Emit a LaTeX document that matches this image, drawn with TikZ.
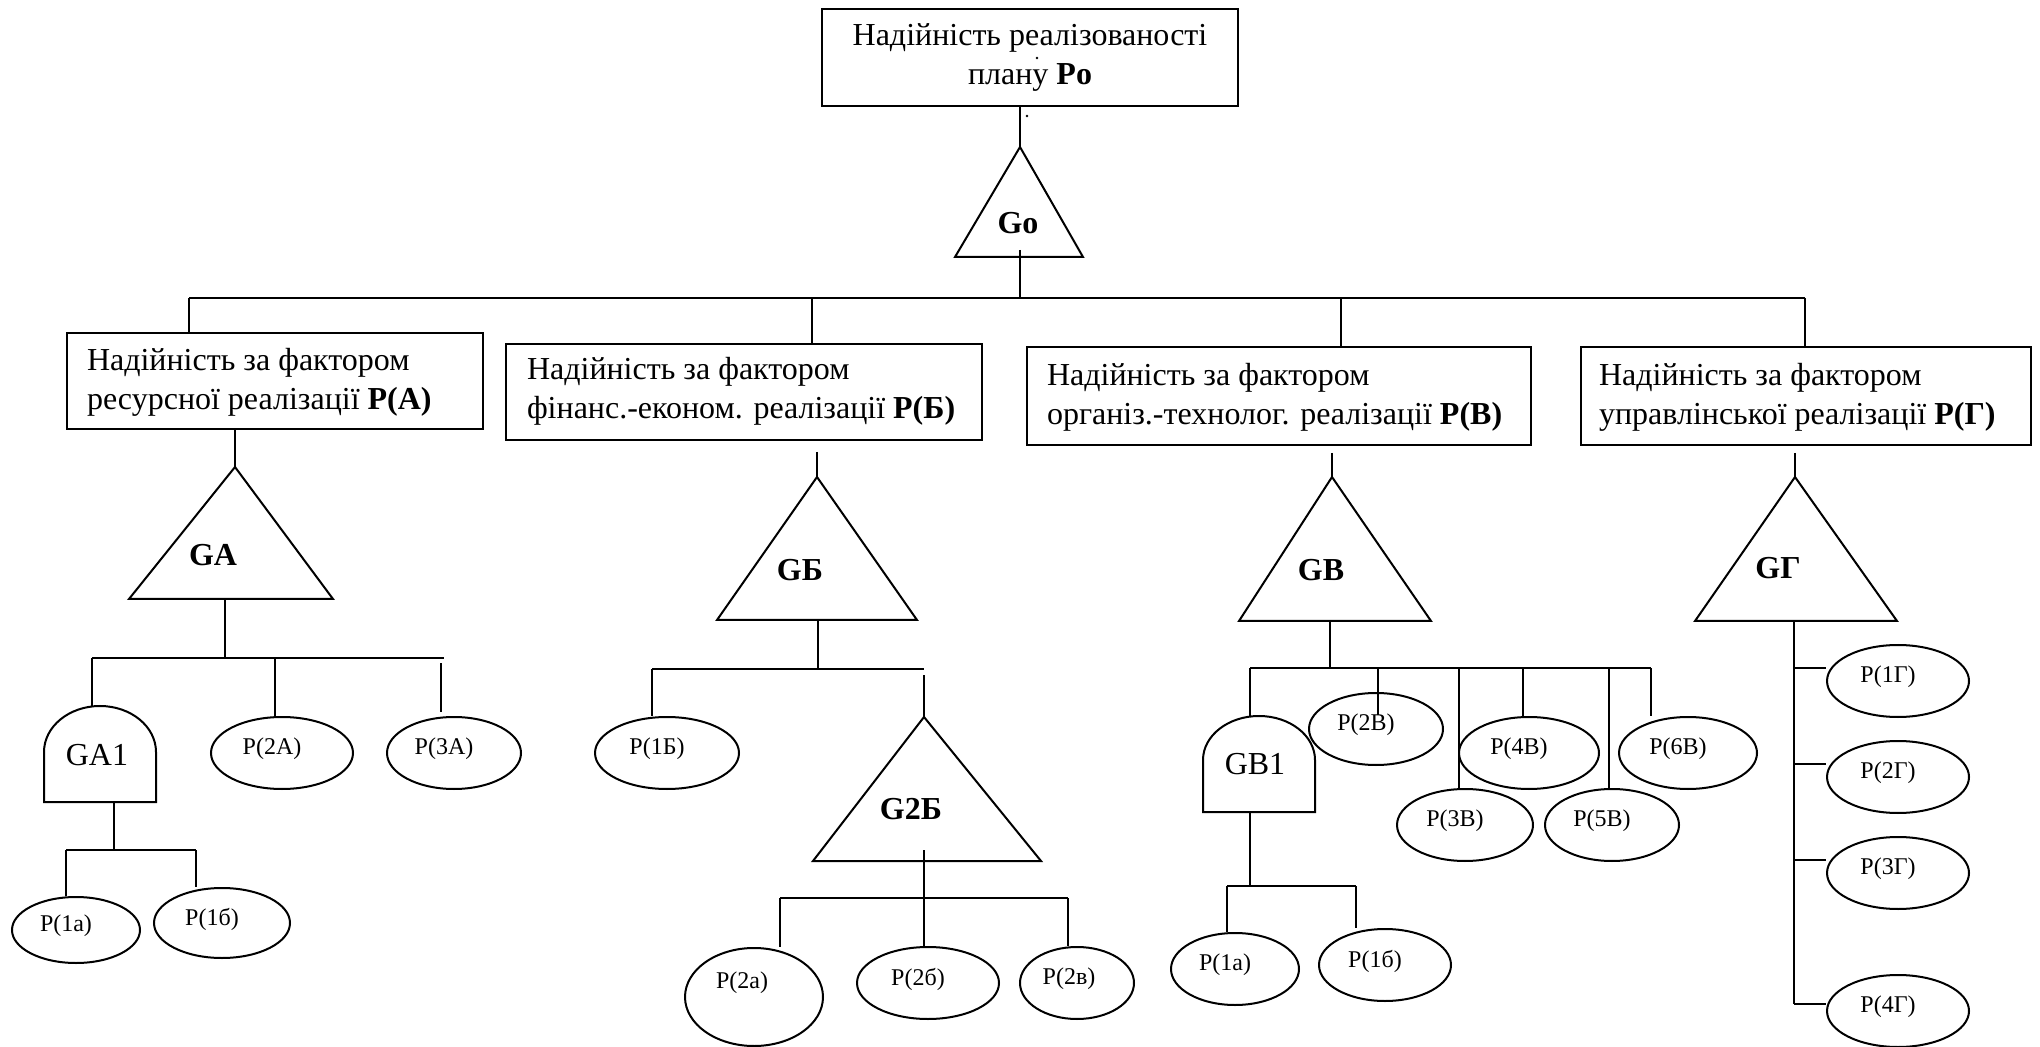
\documentclass[tikz,border=0pt]{standalone}
\usepackage{fontspec}
\setmainfont{Liberation Serif}
\usetikzlibrary{shapes.geometric}
\newcommand\bigtxt{\fontsize{16pt}{19.5pt}\selectfont}
\newcommand\smalltxt{\fontsize{12pt}{14pt}\selectfont}
\begin{document}
\begin{tikzpicture}[x=0.5pt, y=-0.5pt, line width=1pt,
  fbox/.style={draw, inner sep=0pt, anchor=north west},
  ftext/.style={font=\bigtxt, align=left, anchor=west, inner sep=0pt},
  gname/.style={font=\bigtxt\bfseries, inner sep=0pt},
  gatename/.style={font=\bigtxt, inner sep=0pt},
  pev/.style 2 args={ellipse, draw, inner sep=0pt, minimum width=#1pt, minimum height=#2pt},
  plabel/.style={font=\smalltxt, inner sep=0pt, shift={(-5pt,2pt)}},
  dot/.style={fill, circle, inner sep=0pt, minimum size=1.3pt, line width=0pt}
]
\useasboundingbox (0,0) rectangle (2040,1047);

% ---------- top event ----------
\node[draw, inner sep=0pt, minimum width=208pt, minimum height=48.5pt, align=center, font=\bigtxt]
  (Ro) at (1030,57.5) {Надійність реалізованості\\плану \textbf{Po}};
\node[dot] (d1) at (1037,58) {};
\node[dot] (d2) at (1027,116) {};

\coordinate (GoTop) at (1020,147);
\draw (GoTop) -- (955,257) -- (1083,257) -- cycle;
\node[gname] (Go) at (1018,223) {Go};
\draw (Ro.south -| GoTop) -- (GoTop);

% ---------- factor boxes ----------
\node[fbox, minimum width=208pt, minimum height=48pt] (A) at (66,332) {};
\node[ftext] (Atxt) at (86,382.5) {Надійність за фактором\\ресурсної реалізації \textbf{P(А)}};
\node[fbox, minimum width=238pt, minimum height=48pt] (B) at (505,343) {};
\node[ftext] (Btxt) at (526,391.5) {Надійність за фактором\\фінанс.-економ. реалізації \textbf{P(Б)}};
\node[fbox, minimum width=252pt, minimum height=49pt] (C) at (1026,346) {};
\node[ftext] (Ctxt) at (1046,397) {Надійність за фактором\\організ.-технолог. реалізації \textbf{P(В)}};
\node[fbox, minimum width=225pt, minimum height=49pt] (D) at (1580,346) {};
\node[ftext] (Dtxt) at (1598,397) {Надійність за фактором\\управлінської реалізації \textbf{P(Г)}};

% top bus
\coordinate (GoOut) at (1020,250);
\coordinate (tA) at (189,298);
\coordinate (tB) at (812,298);
\coordinate (tC) at (1341,298);
\coordinate (tD) at (1805,298);
\draw (GoOut) -- (GoOut |- tA);
\draw (tA) -- (tD);
\draw (tA) -- (tA |- A.north);
\draw (tB) -- (tB |- B.north);
\draw (tC) -- (tC |- C.north);
\draw (tD) -- (tD |- D.north);

% ---------- gates under the factor boxes ----------
\coordinate (gAtop) at (235,467);
\draw (gAtop) -- (129,599) -- (333,599) -- cycle;
\node[gname] (gA) at (213,555) {GА};
\draw (A.south -| gAtop) -- (gAtop);

\coordinate (gBtop) at (817,477);
\coordinate (gBin) at (817,452);
\draw (gBtop) -- (717,620) -- (917,620) -- cycle;
\node[gname] (gB) at (800,570) {GБ};
\draw (gBin) -- (gBtop);

\coordinate (gVtop) at (1332,477);
\coordinate (gVin) at (1332,453);
\draw (gVtop) -- (1239,621) -- (1431,621) -- cycle;
\node[gname] (gV) at (1321,570) {GВ};
\draw (gVin) -- (gVtop);

\coordinate (gGtop) at (1795,477);
\coordinate (gGin) at (1795,453);
\draw (gGtop) -- (1695,621) -- (1897,621) -- cycle;
\node[gname] (gG) at (1778,568) {GГ};
\draw (gGin) -- (gGtop);

% ---------- branch A ----------
\node[pev={71}{36}, label={[plabel]center:P(2А)}] (PA2) at (282,753) {};
\node[pev={67}{36}, label={[plabel]center:P(3А)}] (PA3) at (454,753) {};
\node[pev={64}{33}, label={[plabel]center:P(1а)}] (PA1a) at (76,930) {};
\node[pev={68}{35}, label={[plabel]center:P(1б)}] (PA1b) at (222,923) {};

\draw (44,802) -- (44,752) arc[start angle=180, end angle=0, x radius=28pt, y radius=23pt] -- (156,802) -- cycle;
\node[gatename] (GA1) at (97,755) {GА1};

\coordinate (gAout) at (225,599);
\coordinate (bAl) at (92,658);
\coordinate (bAr) at (444,658);
\coordinate (bA2) at (275,658);
\coordinate (bA3) at (441,663);
\coordinate (bA3e) at (441,712);
\coordinate (GA1top) at (92,706);
\draw (gAout) -- (gAout |- bAl);
\draw (bAl) -- (bAr);
\draw (bAl) -- (GA1top);
\draw (bA2) -- (bA2 |- PA2.north);
\draw (bA3) -- (bA3e);

\coordinate (GA1out) at (114,802);
\coordinate (bA1l) at (66,850);
\coordinate (bA1r) at (196,850);
\draw (GA1out) -- (GA1out |- bA1l);
\draw (bA1l) -- (bA1r);
\draw (bA1l) -- (bA1l |- PA1a.north);
\draw (bA1r) -- (bA1r |- PA1b.north);

% ---------- branch Б ----------
\node[pev={72}{36}, label={[plabel]center:P(1Б)}] (PB1) at (667,753) {};
\coordinate (g2Btop) at (924,717);
\draw (g2Btop) -- (813,861) -- (1041,861) -- cycle;
\node[gname] (g2B) at (911,809) {G2Б};

\coordinate (gBout) at (818,620);
\coordinate (bBl) at (652,669);
\coordinate (bBr) at (924,669);
\coordinate (bBr2) at (924,675);
\draw (gBout) -- (gBout |- bBl);
\draw (bBl) -- (bBr);
\draw (bBl) -- (bBl |- PB1.north);
\draw (bBr2) -- (g2Btop);

\node[pev={69}{49}, label={[plabel, shift={(-1pt,5pt)}]center:P(2а)}] (PB2a) at (754,997) {};
\node[pev={71}{36}, label={[plabel]center:P(2б)}] (PB2b) at (928,983) {};
\node[pev={57}{36}, label={[plabel, shift={(1pt,0pt)}]center:P(2в)}] (PB2c) at (1077,983) {};

\coordinate (g2Bout) at (924,850);
\coordinate (b2l) at (780,898);
\coordinate (b2m) at (924,898);
\coordinate (b2r) at (1068,898);
\draw (g2Bout) -- (b2m);
\draw (b2l) -- (b2r);
\draw (b2l) -- (b2l |- PB2a.north);
\draw (b2m) -- (b2m |- PB2b.north);
\draw (b2r) -- (b2r |- PB2c.north);

% ---------- branch В ----------
\node[pev={67}{36}, label={[plabel]center:P(2В)}] (PV2) at (1376,729) {};
\node[pev={70}{36}, label={[plabel]center:P(4В)}] (PV4) at (1529,753) {};
\node[pev={69}{36}, label={[plabel]center:P(6В)}] (PV6) at (1688,753) {};
\node[pev={68}{36}, label={[plabel]center:P(3В)}] (PV3) at (1465,825) {};
\node[pev={67}{36}, label={[plabel]center:P(5В)}] (PV5) at (1612,825) {};
\node[pev={64}{36}, label={[plabel]center:P(1а)}] (PV1a) at (1235,969) {};
\node[pev={66}{36}, label={[plabel]center:P(1б)}] (PV1b) at (1385,965) {};

\draw (1203,812) -- (1203,760) arc[start angle=180, end angle=0, x radius=28pt, y radius=22pt] -- (1315,812) -- cycle;
\node[gatename] (GB1) at (1255,764) {GВ1};

\coordinate (gVout) at (1330,621);
\coordinate (bVl) at (1250,668);
\coordinate (bVr) at (1651,668);
\coordinate (bV2) at (1378,668);
\coordinate (bV3) at (1459,668);
\coordinate (bV4) at (1523,668);
\coordinate (bV5) at (1609,668);
\coordinate (GB1top) at (1250,716);
\coordinate (bV2e) at (1378,715);
\coordinate (bV6e) at (1651,716);
\draw (gVout) -- (gVout |- bVl);
\draw (bVl) -- (bVr);
\draw (bVl) -- (GB1top);
\draw (bV2) -- (bV2e);
\draw (bV3) -- (bV3 |- PV3.north);
\draw (bV4) -- (bV4 |- PV4.north);
\draw (bV5) -- (bV5 |- PV5.north);
\draw (bVr) -- (bV6e);

\coordinate (GB1out) at (1250,812);
\coordinate (bV1l) at (1227,886);
\coordinate (bV1r) at (1356,886);
\draw (GB1out) -- (GB1out |- bV1l);
\draw (bV1l) -- (bV1r);
\draw (bV1l) -- (bV1l |- PV1a.north);
\draw (bV1r) -- (bV1r |- PV1b.north);

% ---------- branch Г ----------
\node[pev={71}{36}, label={[plabel]center:P(1Г)}] (PG1) at (1898,681) {};
\node[pev={71}{36}, label={[plabel]center:P(2Г)}] (PG2) at (1898,777) {};
\node[pev={71}{36}, label={[plabel]center:P(3Г)}] (PG3) at (1898,873) {};
\node[pev={71}{36}, label={[plabel]center:P(4Г)}] (PG4) at (1898,1011) {};

\coordinate (gGout) at (1794,621);
\coordinate (sG1) at (1794,668);
\coordinate (sG2) at (1794,764);
\coordinate (sG3) at (1794,860);
\coordinate (sG4) at (1794,1004);
\draw (gGout) -- (sG4);
\draw (sG1) -- (sG1 -| PG1.west);
\draw (sG2) -- (sG2 -| PG2.west);
\draw (sG3) -- (sG3 -| PG3.west);
\draw (sG4) -- (sG4 -| PG4.west);
\end{tikzpicture}
\end{document}
